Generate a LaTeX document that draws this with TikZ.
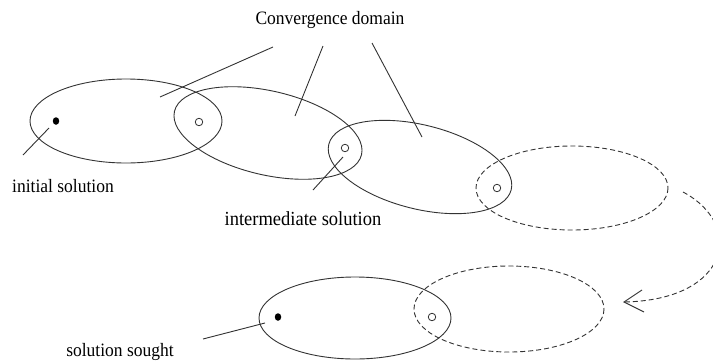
\documentclass[tikz,border=0pt]{standalone}
\usepackage{fontspec}
\setmainfont{Liberation Serif}
\usetikzlibrary{shapes.geometric}
\begin{document}
\begin{tikzpicture}[x=1pt,y=-1pt,
  ln/.style={line width=0.9pt,draw=black!80},
  dsh/.style={ln,dash pattern=on 5pt off 3pt},
  opendot/.style={circle,draw=black!80,line width=0.8pt,minimum size=7.5pt,inner sep=0pt},
  fulldot/.style={ellipse,fill=black,minimum width=6.5pt,minimum height=7.5pt,inner sep=0pt},
  lbl/.style={font=\fontsize{17.5}{20}\selectfont,inner sep=0pt,yscale=1.08}]
\useasboundingbox (0,0) rectangle (713,362);
\clip (0,0) rectangle (713,362);
% ellipses
\coordinate (c1) at (126,121);
\coordinate (c2) at (268,133);
\coordinate (c3) at (420,167);
\coordinate (c4) at (572,188);
\coordinate (c5) at (355,318);
\coordinate (c6) at (509,309);
\draw[ln] (c1) ellipse [x radius=96, y radius=42];
\draw[ln,rotate around={-13:(c2)}] (c2) ellipse [x radius=96, y radius=42];
\draw[ln,rotate around={-14:(c3)}] (c3) ellipse [x radius=94, y radius=42];
\draw[dsh] (c4) ellipse [x radius=96, y radius=42];
\draw[ln] (c5) ellipse [x radius=96, y radius=41];
\draw[dsh] (c6) ellipse [x radius=95, y radius=43];
% points
\node[fulldot] (p0) at (56,121) {};
\node[opendot] (p1) at (199,122) {};
\node[opendot] (p2) at (345,148) {};
\node[opendot] (p3) at (497,188) {};
\node[opendot] (p4) at (432,317) {};
\node[fulldot] (p5) at (278,317) {};
% labels
\node[lbl] (conv) at (330,20) {Convergence domain};
\node[lbl] (init) at (63,186) {initial solution};
\node[lbl,font=\fontsize{18.5}{20}\selectfont] (inter) at (303,219) {intermediate solution};
\node[lbl] (sought) at (120,352) {solution sought};
% pointer lines
\coordinate (a1) at (273,47); \coordinate (b1) at (160,97);
\coordinate (a2) at (323,46); \coordinate (b2) at (295,116);
\coordinate (a3) at (372,43); \coordinate (b3) at (422,137);
\coordinate (a4) at (49,128); \coordinate (b4) at (23,155);
\coordinate (a5) at (343,157); \coordinate (b5) at (313,190);
\coordinate (a6) at (265,323); \coordinate (b6) at (203,339);
\draw[ln] (a1) -- (b1);
\draw[ln] (a2) -- (b2);
\draw[ln] (a3) -- (b3);
\draw[ln] (a4) -- (b4);
\draw[ln] (a5) -- (b5);
\draw[ln] (a6) -- (b6);
% return arrow
\coordinate (s) at (683,192);
\coordinate (tip) at (624,302);
\draw[dsh] (s) .. controls (745,225) and (730,300) .. (tip);
\draw[ln] (642,290) -- (tip) -- (644,312);
\end{tikzpicture}
\end{document}
